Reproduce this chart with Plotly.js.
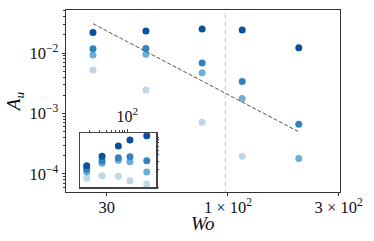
<!DOCTYPE html>
<html>
<head>
<meta charset="utf-8">
<script src="https://cdn.plot.ly/plotly-3.0.1.min.js"></script>
<style>html,body{margin:0;padding:0;background:#fff}#chart{width:374px;height:241px}</style>
</head>
<body>
<div id="chart"></div>
<script>
// Main panel data
const wo = [26.2, 44.3, 77.4, 115.2, 202];
const series1 = [0.0219, 0.0232, 0.0250, 0.0240, 0.01225];
const series2 = [0.01178, 0.0119, 0.00683, 0.00339, 0.000665];
const series3 = [0.00927, 0.0095, 0.00472, 0.00177, 0.000179];
const series4 = [0.00523, 0.00244, 0.000718, 0.000196, null];
const fitX = [26.2, 201];
const fitY = [0.0306, 0.000502];
const vlineX = [97.4, 97.4];
const vlineY = [1e-5, 1];
// Inset data
const insetX = [17.4, 33.7, 68, 112, 231];
const inset1 = [0.243, 0.375, 0.605, 0.80, 0.976];
const inset2 = [0.206, 0.302, 0.352, 0.368, 0.306];
const inset3 = [0.181, 0.272, 0.312, 0.292, 0.181];
const inset4 = [0.135, 0.153, 0.149, 0.121, 0.104];
const colors = ['#08519c', '#3182bd', '#6baed6', '#bdd7e7'];
const xTickVals = [30, 100, 300];
const xTickText = ['30', '1 × 10<sup>2</sup>', '3 × 10<sup>2</sup>'];
const yTickVals = [1e-4, 1e-3, 1e-2];
const yTickText = ['10<sup>−4</sup>', '10<sup>−3</sup>', '10<sup>−2</sup>'];
const xTitle = '<i>Wo</i>';
const yTitle = '<i>A</i><sub><i>u</i></sub>';

function minors(lo, hi) {
  const out = [];
  for (let e = lo; e <= hi; e++) for (let k = 2; k <= 9; k++) out.push(k * Math.pow(10, e));
  return out;
}

const traces = [];
traces.push({x: vlineX, y: vlineY, mode: 'lines', line: {color: '#c8c8c8', width: 1, dash: '5px,3px'}, xaxis: 'x', yaxis: 'y', hoverinfo: 'skip'});
[series4, series3, series2, series1].forEach((s, i) => {
  traces.push({x: wo, y: s, mode: 'markers', marker: {color: colors[3 - i], size: 7}, xaxis: 'x', yaxis: 'y'});
});
traces.push({x: fitX, y: fitY, mode: 'lines', line: {color: '#555', width: 1, dash: '4px,2px'}, xaxis: 'x', yaxis: 'y'});
[inset4, inset3, inset2, inset1].forEach((s, i) => {
  traces.push({x: insetX, y: s, mode: 'markers', marker: {color: colors[3 - i], size: 7}, xaxis: 'x2', yaxis: 'y2'});
});

const font = {family: 'Liberation Serif, serif', size: 16.5, color: '#111'};
const layout = {
  width: 374, height: 241,
  margin: {l: 66, r: 34, t: 10, b: 49},
  showlegend: false,
  paper_bgcolor: '#fff', plot_bgcolor: '#fff',
  font: font,
  xaxis: {
    type: 'log', range: [1.302, 2.483], domain: [0, 1],
    tickmode: 'array', tickvals: xTickVals, ticktext: xTickText,
    ticks: 'outside', ticklen: 3, tickcolor: '#333', ticklabelstandoff: -3,
    showline: true, mirror: true, linecolor: '#333', linewidth: 1.3,
    showgrid: false, zeroline: false,
    anchor: 'y', automargin: false
  },
  yaxis: {
    type: 'log', range: [-4.30, -1.288], domain: [0, 1],
    tickmode: 'array', tickvals: yTickVals, ticktext: yTickText,
    ticks: 'outside', ticklen: 3, tickcolor: '#333',
    minor: {tickvals: minors(-5, -2), ticks: 'outside', ticklen: 1.5, tickcolor: '#333', showgrid: false},
    showline: true, mirror: true, linecolor: '#333', linewidth: 1.3,
    showgrid: false, zeroline: false,
    title: {text: yTitle, font: {family: 'Liberation Serif, serif', size: 19}, standoff: 4},
    anchor: 'x', automargin: false
  },
  xaxis2: {
    type: 'log', range: [1.110, 2.542], domain: [0.050, 0.3296],
    side: 'top', anchor: 'y2',
    tickmode: 'array', tickvals: [100], ticktext: ['10<sup>2</sup>'],
    ticks: 'outside', ticklen: 3, tickcolor: '#444',
    minor: {tickvals: minors(1, 1), ticks: 'outside', ticklen: 1.5, tickcolor: '#444', showgrid: false},
    showline: true, mirror: true, linecolor: '#444', linewidth: 1.2,
    showgrid: false, zeroline: false, tickfont: {family: 'Liberation Serif, serif', size: 16}
  },
  yaxis2: {
    type: 'log', range: [-1.05, 0.05], domain: [0.0258, 0.3258],
    side: 'right', anchor: 'x2',
    tickmode: 'array', tickvals: [],
    minor: {tickvals: minors(-2, 0), ticks: 'outside', ticklen: 1.5, tickcolor: '#444', showgrid: false},
    showticklabels: false,
    showline: true, mirror: true, linecolor: '#444', linewidth: 1.2,
    showgrid: false, zeroline: false
  },
  annotations: [{
    text: xTitle, xref: 'paper', yref: 'paper', x: 0.5, y: -0.172,
    xanchor: 'center', yanchor: 'middle', showarrow: false,
    font: {family: 'Liberation Serif, serif', size: 19, color: '#111'}
  }]
};
Plotly.newPlot('chart', traces, layout, {staticPlot: true, displayModeBar: false});
</script>
</body>
</html>
